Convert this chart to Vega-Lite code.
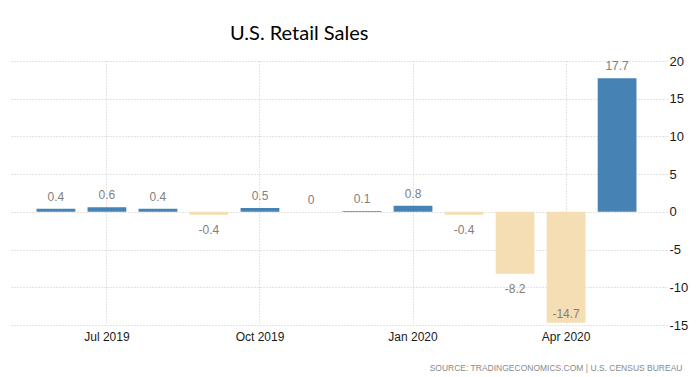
{
  "$schema": "https://vega.github.io/schema/vega-lite/v6.json",
  "width": 653,
  "height": 264,
  "autosize": {"type": "none"},
  "padding": {"left": 10, "top": 61, "right": 36, "bottom": 52},
  "background": "white",
  "title": {
    "text": "U.S. Retail Sales",
    "anchor": "start",
    "dx": 220,
    "offset": -5,
    "baseline": "alphabetic",
    "font": "Lato",
    "fontSize": 20,
    "fontWeight": "normal",
    "color": "#000000"
  },
  "data": {
    "values": [
      {"month": "Jun 2019", "value": 0.4},
      {"month": "Jul 2019", "value": 0.6},
      {"month": "Aug 2019", "value": 0.4},
      {"month": "Sep 2019", "value": -0.4},
      {"month": "Oct 2019", "value": 0.5},
      {"month": "Nov 2019", "value": 0},
      {"month": "Dec 2019", "value": 0.1},
      {"month": "Jan 2020", "value": 0.8},
      {"month": "Feb 2020", "value": -0.4},
      {"month": "Mar 2020", "value": -8.2},
      {"month": "Apr 2020", "value": -14.7},
      {"month": "May 2020", "value": 17.7}
    ]
  },
  "encoding": {
    "x": {
      "field": "month",
      "type": "nominal",
      "sort": null,
      "scale": {"paddingInner": 0.24, "paddingOuter": 0.52},
      "axis": {
        "values": ["Jul 2019", "Oct 2019", "Jan 2020", "Apr 2020"],
        "labelAngle": 0,
        "labelFont": "Liberation Sans",
        "labelFontSize": 12,
        "labelColor": "#1a1a1a",
        "labelPadding": 6,
        "ticks": false,
        "domain": false,
        "grid": true,
        "gridColor": "#c8c8c8",
        "gridDash": [1, 2],
        "tickBand": "center",
        "title": "SOURCE:  TRADINGECONOMICS.COM  |  U.S.  CENSUS  BUREAU",
        "titleFont": "Liberation Sans",
        "titleFontSize": 8.5,
        "titleFontWeight": "normal",
        "titleColor": "#8a8a8a",
        "titleAlign": "right",
        "titleX": 672,
        "titleY": 45,
        "titleBaseline": "alphabetic"
      }
    },
    "y": {
      "field": "value",
      "type": "quantitative",
      "scale": {"domain": [-15, 20], "nice": false, "zero": true},
      "axis": {
        "orient": "right",
        "values": [-15, -10, -5, 0, 5, 10, 15, 20],
        "labelExpr": "'' + datum.value",
        "labelFont": "Liberation Sans",
        "labelFontSize": 13,
        "labelColor": "#1a1a1a",
        "labelPadding": 1,
        "ticks": true,
        "tickSize": 5,
        "tickColor": "#c8c8c8",
        "tickDash": [1, 2],
        "domain": false,
        "grid": true,
        "gridColor": "#c8c8c8",
        "gridDash": [1, 2],
        "title": null
      }
    }
  },
  "layer": [
    {
      "mark": {"type": "bar"},
      "encoding": {
        "color": {
          "condition": {"test": "datum.value >= 0", "value": "#4682b4"},
          "value": "#f5deb3"
        }
      }
    },
    {
      "transform": [{"filter": "datum.value >= 0"}],
      "mark": {"type": "text", "dy": -12, "baseline": "middle", "font": "Liberation Sans", "fontSize": 12, "color": "#808080"},
      "encoding": {"text": {"field": "value", "type": "nominal"}}
    },
    {
      "transform": [{"filter": "datum.value < 0 && datum.value > -14"}],
      "mark": {"type": "text", "dy": 15, "baseline": "middle", "font": "Liberation Sans", "fontSize": 12, "color": "#808080"},
      "encoding": {"text": {"field": "value", "type": "nominal"}}
    },
    {
      "transform": [{"filter": "datum.value <= -14"}],
      "mark": {"type": "text", "dy": -9, "baseline": "middle", "font": "Liberation Sans", "fontSize": 12, "color": "#808080"},
      "encoding": {"text": {"field": "value", "type": "nominal"}}
    }
  ],
  "config": {"view": {"stroke": null}}
}
